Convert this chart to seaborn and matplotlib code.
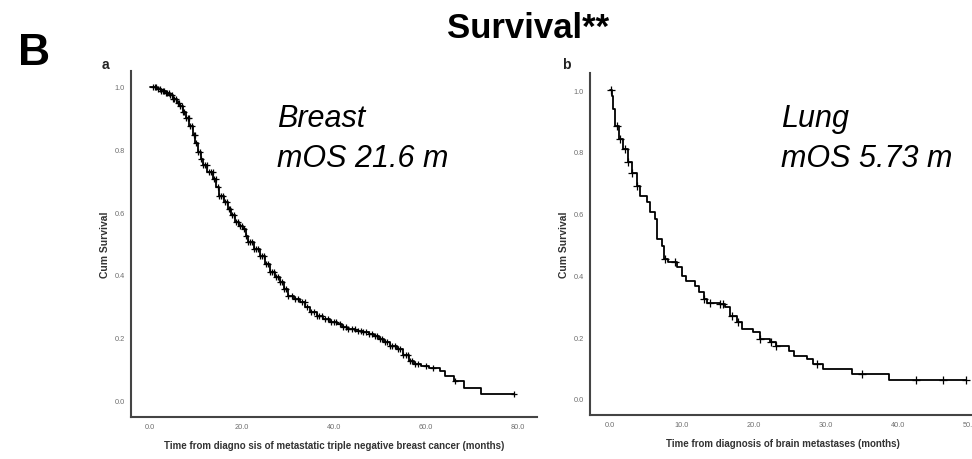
import numpy as np
import pandas as pd
import matplotlib
matplotlib.use("Agg")
import matplotlib.pyplot as plt
import seaborn as sns

# ---------------- data ----------------
breast_t = [0, 1.5, 2.5, 3.5, 4.2, 5.0, 5.8, 6.4, 7.2, 7.9, 8.6, 9.3, 9.9, 10.4, 11.0,
            11.5, 12.5, 13.7, 14.4, 15.1, 16.0, 16.9, 17.6, 18.4, 19.3, 20.2, 20.8, 21.3,
            22.6, 23.9, 25.0, 26.0, 27.1, 28.2, 29.1, 30.0, 31.3, 32.6, 33.7, 34.8, 36.2,
            37.7, 39.1, 40.6, 41.7, 42.8, 44.6, 46.4, 47.5, 48.6, 49.7, 50.8, 52.2, 53.7,
            55.0, 56.2, 57.3, 59.0, 60.6, 63.1, 64.2, 66.0, 68.2, 71.9, 79.2]
breast_s = [1.0, 0.995, 0.988, 0.98, 0.973, 0.962, 0.95, 0.94, 0.92, 0.90, 0.875, 0.846,
            0.82, 0.793, 0.77, 0.75, 0.728, 0.707, 0.68, 0.653, 0.632, 0.61, 0.59, 0.568,
            0.555, 0.547, 0.525, 0.504, 0.482, 0.461, 0.435, 0.408, 0.392, 0.376, 0.355,
            0.333, 0.322, 0.312, 0.296, 0.28, 0.269, 0.258, 0.25, 0.242, 0.234, 0.226,
            0.221, 0.216, 0.21, 0.205, 0.195, 0.184, 0.173, 0.162, 0.145, 0.125, 0.114,
            0.109, 0.104, 0.093, 0.077, 0.061, 0.039, 0.021, 0.021]
breast_censor = [0.6, 1.0, 1.4, 1.8, 2.2, 2.5, 2.8, 3.1, 3.5, 3.8, 4.1, 4.4, 4.7, 5.0, 5.3,
                 5.6, 6.0, 6.3, 6.6, 6.9, 7.2, 7.5, 7.9, 8.2, 8.5, 8.8, 9.2, 9.5, 9.8,
                 10.1, 10.5, 10.9, 11.2, 11.6, 12.0, 12.4, 12.8, 13.2, 13.6, 14.0, 14.3,
                 14.7, 15.1, 15.5, 15.9, 16.3, 16.7, 17.1, 17.5, 17.9, 18.3, 18.8, 19.2,
                 19.6, 20.0, 20.5, 20.9, 21.3, 21.7, 22.2, 22.6, 23.0, 23.4, 23.9, 24.3,
                 24.8, 25.2, 25.6, 26.0, 26.5, 26.9, 27.4, 27.8, 28.3, 28.7, 29.2, 29.6,
                 30.1, 30.8, 31.5, 32.2, 33.0, 33.6, 34.2, 34.9, 35.6, 36.2, 36.8, 37.4,
                 38.0, 38.7, 39.3, 39.9, 40.5, 41.2, 42.0, 42.5, 43.1, 43.8, 44.5, 45.1,
                 45.8, 46.4, 47.0, 47.6, 48.2, 48.8, 49.3, 49.9, 50.5, 51.0, 51.6, 52.2,
                 52.7, 53.3, 53.8, 54.4, 55.0, 55.6, 56.1, 56.5, 57.0, 57.6, 58.2, 60.0,
                 61.5, 66.2, 79.2]

lung_t = [0, 0.2, 0.46, 0.7, 1.2, 1.85, 2.5, 3.0, 3.7, 4.2, 5.1, 5.6, 6.2, 6.5, 7.2, 7.5,
          8.1, 9.3, 10.0, 10.6, 11.8, 12.3, 13.0, 13.4, 15.3, 16.0, 16.7, 17.6, 18.3, 19.9,
          20.8, 22.2, 23.1, 24.8, 25.5, 27.3, 28.2, 29.6, 33.6, 38.7, 49.5]
lung_s = [1.0, 0.98, 0.94, 0.885, 0.84, 0.81, 0.766, 0.733, 0.69, 0.658, 0.636, 0.604,
          0.582, 0.518, 0.496, 0.453, 0.442, 0.426, 0.399, 0.383, 0.367, 0.345, 0.323,
          0.312, 0.307, 0.296, 0.269, 0.248, 0.226, 0.216, 0.194, 0.183, 0.172, 0.156,
          0.14, 0.13, 0.113, 0.097, 0.081, 0.06, 0.06]
lung_censor = [0.05, 0.9, 1.4, 2.0, 2.5, 3.0, 3.7, 7.6, 9.0, 13.1, 13.9, 15.3, 15.7, 16.9,
               17.8, 20.8, 22.4, 23.1, 28.7, 35.0, 42.5, 46.3, 49.5]

breast_xticks = [0, 20, 40, 60, 80]
lung_xticks = [0, 10, 20, 30, 40, 50]
yticks = [0.0, 0.2, 0.4, 0.6, 0.8, 1.0]

breast_xlabel = "Time from diagno sis of metastatic triple negative breast cancer (months)"
lung_xlabel = "Time from diagnosis of brain metastases (months)"
ylabel = "Cum Survival"
title = "Survival**"

# ---------------- style ----------------
sns.set_style("white")
plt.rcParams["font.family"] = ["Liberation Sans", "DejaVu Sans"]

fig = plt.figure(figsize=(9.72, 4.6), dpi=100)
ax1 = fig.add_axes([0.1348, 0.0913, 0.4177, 0.7522])
ax2 = fig.add_axes([0.607, 0.0957, 0.396, 0.7433])


def km_panel(ax, t, s, cens, xticks, xlim, ylim, xlabel, msize):
    df = pd.DataFrame({"t": t, "s": s})
    sns.lineplot(data=df, x="t", y="s", ax=ax, drawstyle="steps-post",
                 color="black", linewidth=1.3, estimator=None)
    t_arr = np.asarray(t)
    s_arr = np.asarray(s)
    idx = np.searchsorted(t_arr, np.asarray(cens), side="right") - 1
    cdf = pd.DataFrame({"t": cens, "s": s_arr[idx]})
    sns.scatterplot(data=cdf, x="t", y="s", ax=ax, marker="+", s=msize,
                    color="black", linewidth=0.9, zorder=3)
    ax.set_xlim(*xlim)
    ax.set_ylim(*ylim)
    ax.set_xticks(xticks)
    ax.set_xticklabels([f"{v:.1f}" for v in xticks])
    ax.set_yticks(yticks)
    ax.set_yticklabels([f"{v:.1f}" for v in yticks])
    ax.tick_params(axis="both", direction="out", length=3, width=0.8,
                   color="#666666", labelcolor="#6e6e6e", labelsize=5.3, pad=1.5)
    ax.set_xlabel(xlabel, fontsize=7, fontweight="bold", color="#333333", labelpad=7)
    ax.set_ylabel(ylabel, fontsize=7.5, fontweight="bold", color="#333333", labelpad=3)
    for side in ["left", "bottom"]:
        ax.spines[side].set_color("#444444")
        ax.spines[side].set_linewidth(1.5)
    sns.despine(ax=ax)


km_panel(ax1, breast_t, breast_s, breast_censor, breast_xticks,
         (-4.1, 84.1), (-0.054, 1.051), breast_xlabel, 20)
km_panel(ax2, lung_t, lung_s, lung_censor, lung_xticks,
         (-2.8, 50.7), (-0.052, 1.055), lung_xlabel, 28)

# ---------------- annotations ----------------
fig.text(0.543, 0.917, title, ha="center", va="baseline", fontsize=25,
         fontweight="bold", color="black")
fig.text(0.0185, 0.859, "B", ha="left", va="baseline", fontsize=32,
         fontweight="bold", color="black")
fig.text(0.105, 0.85, "a", ha="left", va="baseline", fontsize=10,
         fontweight="bold", color="#222222")
fig.text(0.578, 0.85, "b", ha="left", va="baseline", fontsize=10,
         fontweight="bold", color="#222222")

fig.text(0.285, 0.724, "Breast", ha="left", va="baseline", fontsize=22,
         fontstyle="italic", color="black")
fig.text(0.285, 0.637, "mOS 21.6 m", ha="left", va="baseline", fontsize=22,
         fontstyle="italic", color="black")
fig.text(0.8035, 0.724, "Lung", ha="left", va="baseline", fontsize=22,
         fontstyle="italic", color="black")
fig.text(0.8035, 0.637, "mOS 5.73 m", ha="left", va="baseline", fontsize=22,
         fontstyle="italic", color="black")

fig.savefig("out.png", dpi=100)
